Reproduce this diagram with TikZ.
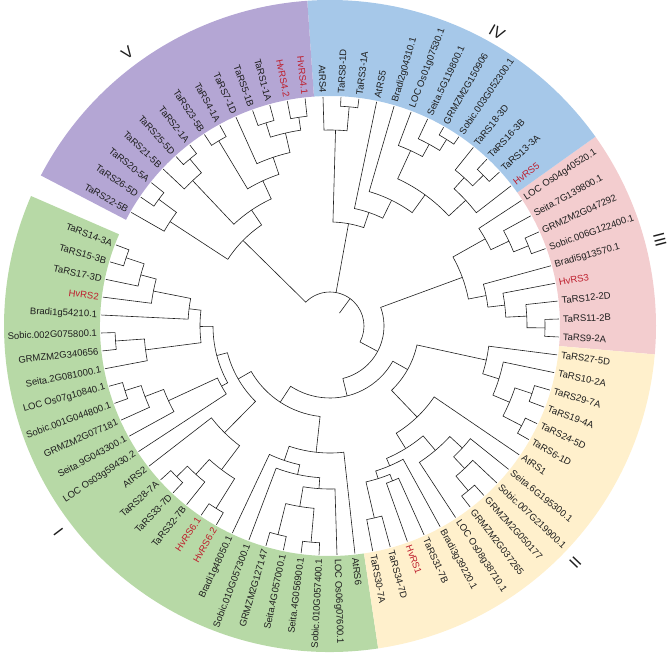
\documentclass[tikz,border=0pt]{standalone}
\usepackage{fontspec}
\setmainfont{Liberation Sans}
\definecolor{cI}{RGB}{183,217,166}
\definecolor{cII}{RGB}{255,240,204}
\definecolor{cIII}{RGB}{243,205,207}
\definecolor{cIV}{RGB}{166,200,233}
\definecolor{cV}{RGB}{180,166,212}
\definecolor{hv}{RGB}{190,30,45}
\definecolor{ink}{RGB}{30,30,30}

\newcommand\tipR{229}
\newcommand\labR{233}
\newcommand\secIn{230}
\newcommand\secOut{326}

% leaf: [colour]{id}{slot}{label}
\newcommand\tip[4][ink]{%
  \pgfmathsetmacro\ta{-2.75+4.5*(#3)}%
  \expandafter\xdef\csname A@#2\endcsname{\ta}%
  \expandafter\xdef\csname R@#2\endcsname{\tipR}%
  \pgfmathtruncatemacro\isleft{and(mod(\ta+720,360)>90,mod(\ta+720,360)<270)}%
  \ifnum\isleft=1
    \pgfmathsetmacro\tr{\ta-180}%
    \node[tiplab,text=#1,anchor=east,rotate=\tr] (#2) at (\ta:\labR) {#4};%
  \else
    \node[tiplab,text=#1,anchor=west,rotate=\ta] (#2) at (\ta:\labR) {#4};%
  \fi
}
% inner node: {id}{radius}{child}{child}
\newcommand\clade[4]{%
  \edef\ca{\csname A@#3\endcsname}\edef\cb{\csname A@#4\endcsname}%
  \edef\ra{\csname R@#3\endcsname}\edef\rb{\csname R@#4\endcsname}%
  \pgfmathsetmacro\cm{(\ca+\cb)/2}%
  \expandafter\xdef\csname A@#1\endcsname{\cm}%
  \expandafter\xdef\csname R@#1\endcsname{#2}%
  \draw[branch] (\ca:\ra) -- (\ca:#2) arc[start angle=\ca,end angle=\cb,radius=#2] -- (\cb:\rb);%
}
% extra child of a multifurcating node: {parent}{child}
\newcommand\extra[2]{%
  \edef\ca{\csname A@#2\endcsname}\edef\ra{\csname R@#2\endcsname}%
  \draw[branch] (\ca:\csname R@#1\endcsname) -- (\ca:\ra);%
}
\newcommand\sector[3]{%
  \fill[#1] (#2:\secIn) arc[start angle=#2,end angle=#3,radius=\secIn]
    -- (#3:\secOut) arc[start angle=#3,end angle=#2,radius=\secOut] -- cycle;}

\begin{document}
\begin{tikzpicture}[x=1pt,y=1pt,
  tiplab/.style={font=\fontsize{9.5}{11}\selectfont,inner sep=0pt},
  branch/.style={draw=ink,line width=0.6pt,line cap=butt},
  numeral/.style={font=\fontsize{16}{18}\selectfont,text=ink,inner sep=0pt}]
\useasboundingbox (-330,-332) rectangle (338,326);

% clade highlights
\sector{cIII}{-5}{35.5}
\sector{cIV}{35.5}{94}
\sector{cV}{94}{152.5}
\sector{cI}{-203.5}{-81.5}
\sector{cII}{-81.5}{-5}

% group III
\tip{ta9}{0}{TaRS9-2A}
\tip{ta11}{1}{TaRS11-2B}
\tip{ta12}{2}{TaRS12-2D}
\tip[hv]{hv3}{3}{HvRS3}
\tip{bd5}{4}{Bradi5g13570.1}
\tip{sb6}{5}{Sobic.006G122400.1}
\tip{zmc}{6}{GRMZM2G047292}
\tip{si7}{7}{Seita.7G139800.1}
\tip{os4}{8}{LOC Os04g40520.1}
% group IV
\tip[hv]{hv5}{9}{HvRS5}
\tip{ta13}{10}{TaRS13-3A}
\tip{ta16}{11}{TaRS16-3B}
\tip{ta18}{12}{TaRS18-3D}
\tip{sb3}{13}{Sobic.003G052300.1}
\tip{zmd}{14}{GRMZM2G150906}
\tip{si5}{15}{Seita.5G119800.1}
\tip{os1}{16}{LOC Os01g07530.1}
\tip{bd2}{17}{Bradi2g04310.1}
\tip{at5}{18}{AtRS5}
\tip{ta3}{19}{TaRS3-1A}
\tip{ta8}{20}{TaRS8-1D}
\tip{at4}{21}{AtRS4}
% group V
\tip[hv]{hva}{22}{HvRS4.1}
\tip[hv]{hvb}{23}{HvRS4.2}
\tip{ta1}{24}{TaRS1-1A}
\tip{ta5}{25}{TaRS5-1B}
\tip{ta7}{26}{TaRS7-1D}
\tip{ta4}{27}{TaRS4-1A}
\tip{ta23}{28}{TaRS23-5B}
\tip{ta2}{29}{TaRS2-1A}
\tip{ta25}{30}{TaRS25-5D}
\tip{ta21}{31}{TaRS21-5B}
\tip{ta20}{32}{TaRS20-5A}
\tip{ta26}{33}{TaRS26-5D}
\tip{ta22}{34}{TaRS22-5B}
% group I
\tip{ta14}{-44}{TaRS14-3A}
\tip{ta15}{-43}{TaRS15-3B}
\tip{ta17}{-42}{TaRS17-3D}
\tip[hv]{hv2}{-41}{HvRS2}
\tip{bde}{-40}{Bradi1g54210.1}
\tip{sb2}{-39}{Sobic.002G075800.1}
\tip{zme}{-38}{GRMZM2G340656}
\tip{si2}{-37}{Seita.2G081000.1}
\tip{os7}{-36}{LOC Os07g10840.1}
\tip{sb1}{-35}{Sobic.001G044800.1}
\tip{zmf}{-34}{GRMZM2G077181}
\tip{si9}{-33}{Seita.9G043300.1}
\tip{os3}{-32}{LOC Os03g59430.2}
\tip{at2}{-31}{AtRS2}
\tip{ta28}{-30}{TaRS28-7A}
\tip{ta33}{-29}{TaRS33-7D}
\tip{ta32}{-28}{TaRS32-7B}
\tip[hv]{hvc}{-27}{HvRS6.1}
\tip[hv]{hvd}{-26}{HvRS6.2}
\tip{bdf}{-25}{Bradi1g48050.1}
\tip{sbx}{-24}{Sobic.010G057300.1}
\tip{zmg}{-23}{GRMZM2G127147}
\tip{six}{-22}{Seita.4G057000.1}
\tip{siy}{-21}{Seita.4G056900.1}
\tip{sby}{-20}{Sobic.010G057400.1}
\tip{os6}{-19}{LOC Os06g07600.1}
\tip{at6}{-18}{AtRS6}
% group II
\tip{ta30}{-17}{TaRS30-7A}
\tip{ta34}{-16}{TaRS34-7D}
\tip[hv]{hv1}{-15}{HvRS1}
\tip{ta31}{-14}{TaRS31-7B}
\tip{bd3}{-13}{Bradi3g39220.1}
\tip{os8}{-12}{LOC Os08g38710.1}
\tip{zmh}{-11}{GRMZM2G037265}
\tip{zmi}{-10}{GRMZM2G050177}
\tip{sb7}{-9}{Sobic.007G219900.1}
\tip{si6}{-8}{Seita.6G195300.1}
\tip{at1}{-7}{AtRS1}
\tip{ta6}{-6}{TaRS6-1D}
\tip{ta24}{-5}{TaRS24-5D}
\tip{ta19}{-4}{TaRS19-4A}
\tip{ta29}{-3}{TaRS29-7A}
\tip{ta10}{-2}{TaRS10-2A}
\tip{ta27}{-1}{TaRS27-5D}

% group III branches
\clade{p1}{215}{ta11}{ta9}
\clade{p2}{197}{p1}{ta12}
\clade{p3}{176}{p2}{hv3}
\clade{p4}{159}{p3}{bd5}
\clade{p5}{214}{sb6}{zmc}
\clade{p6}{198}{p5}{si7}
\clade{p7}{178}{p6}{os4}
\clade{p8}{141}{p4}{p7}
% group IV branches
\clade{b1}{215}{ta13}{ta16}
\clade{b2}{200}{b1}{ta18}
\clade{b3}{185}{hv5}{b2}
\clade{b4}{220}{sb3}{zmd}
\clade{b5}{207}{b4}{si5}
\clade{b6}{193}{b5}{os1}
\clade{b8}{162}{b3}{b6}
\clade{b7}{140}{b8}{bd2}
\clade{b9}{120}{b7}{at5}
\clade{b10}{220}{ta3}{ta8}
\clade{b11}{196}{b10}{at4}
\clade{b12}{104}{b9}{b11}
% group V branches
\clade{v1}{211}{hva}{hvb}
\clade{v2}{213}{ta1}{ta5}
\clade{v3}{198}{v1}{v2}
\clade{v4}{178}{v3}{ta7}
\clade{v5}{216}{ta4}{ta23}
\clade{v6}{160}{v4}{v5}
\clade{v7}{218}{ta2}{ta25}
\clade{v8}{200}{v7}{ta21}
\clade{v9}{140}{v6}{v8}
\clade{v10}{213}{ta20}{ta26}
\clade{v11}{191}{v10}{ta22}
\clade{v12}{122}{v9}{v11}
% group I branches
\clade{g1}{215}{ta14}{ta15}
\clade{g2}{196}{g1}{ta17}
\clade{g3}{180}{g2}{hv2}
\clade{g4}{142}{g3}{bde}
\clade{g5}{215}{sb2}{zme}
\clade{g6}{186}{g5}{si2}
\clade{g7}{130}{g4}{g6}
\clade{g8}{215}{os7}{sb1}
\clade{g9}{198}{g8}{zmf}
\clade{g10}{178}{g9}{si9}
\clade{g11}{124}{g10}{os3}
\clade{g12}{117}{g7}{g11}
\clade{g13}{215}{ta28}{ta33}
\clade{g14}{200}{g13}{ta32}
\clade{g15}{215}{hvc}{hvd}
\clade{g16}{180}{g14}{g15}
\clade{g17}{150}{at2}{g16}
\clade{g18}{106}{g12}{g17}
\clade{g19}{215}{zmg}{six}
\clade{g20}{217}{siy}{sby}
\clade{g21}{183}{g19}{g20}
\clade{g22}{163}{g21}{os6}
\clade{g23}{152}{sbx}{g22}
\clade{g24}{142}{bdf}{g23}
\clade{g25}{127}{g24}{at6}
\clade{g26}{91}{g18}{g25}
% group II branches
\clade{y1}{197}{ta30}{ta34}
\clade{y2}{167}{hv1}{ta31}
\clade{y3}{160}{y1}{y2}
\clade{y4}{152}{y3}{bd3}
\clade{y5}{215}{zmh}{zmi}
\clade{y6}{196}{y5}{sb7}
\clade{y7}{180}{y6}{si6}
\clade{y8}{163}{os8}{y7}
\clade{y9}{144}{y4}{y8}
\clade{y9a}{126}{y9}{at1}
\clade{y10}{216}{ta6}{ta24}
\clade{y11}{213}{ta19}{ta29}
\clade{y12}{195}{y10}{y11}
\clade{y13}{177}{y12}{ta10}
\clade{y14}{160}{y13}{ta27}
\clade{y16}{89}{y9a}{y14}
% backbone
\clade{c}{72}{g26}{y16}
\clade{bb}{54}{c}{p8}
\clade{root}{34}{v12}{bb}
\extra{root}{b12}
\draw[branch] (\csname A@root\endcsname:16) -- (\csname A@root\endcsname:34);

% group numerals
\node[numeral,rotate=127.2] (nI) at (217.2:341) {I};
\node[numeral,rotate=46] (nII) at (-44:341) {II};
\node[numeral,rotate=-75.4] (nIII) at (14.6:341) {III};
\node[numeral,rotate=-29.6] (nIV) at (60.4:338) {IV};
\node[numeral,rotate=36.6] (nV) at (126.6:340) {V};
\end{tikzpicture}
\end{document}
